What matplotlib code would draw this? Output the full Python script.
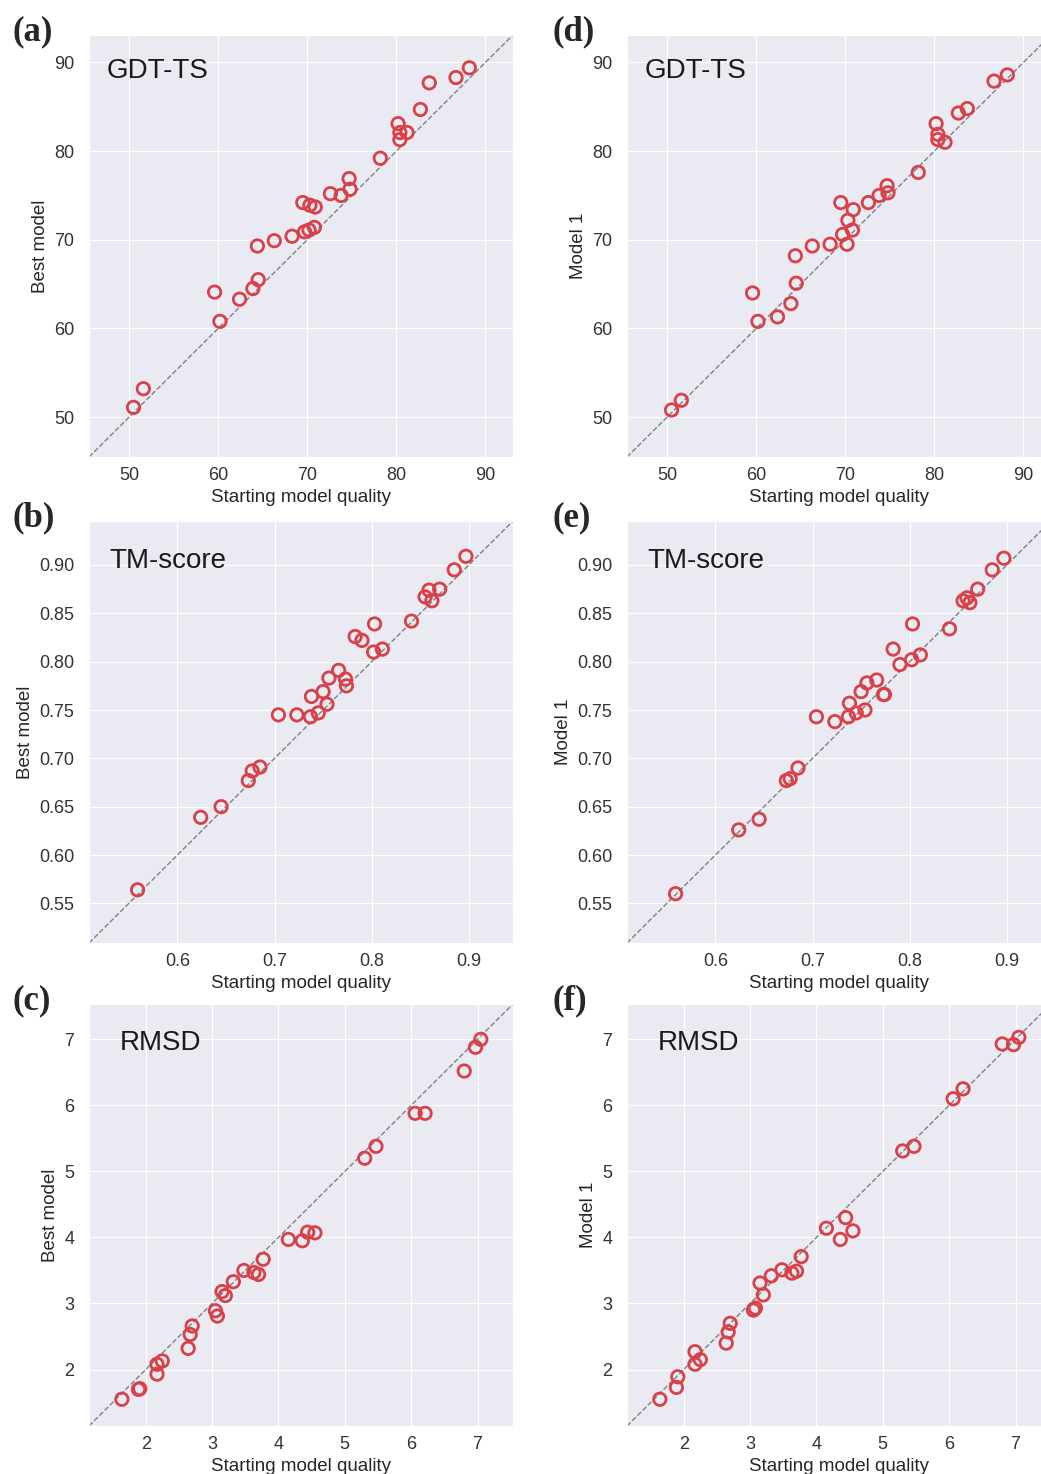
import numpy as np
import matplotlib
matplotlib.use("Agg")
import matplotlib.pyplot as plt
import seaborn as sns

# starting model quality (shared by left/right panels of each row)
gdt_start = [50.5, 51.6, 59.6, 60.2, 62.4, 63.9, 64.5, 64.4, 66.3, 68.3, 69.7, 70.2, 70.8,
             69.5, 70.3, 70.9, 72.6, 73.8, 74.7, 74.8, 78.2, 80.2, 80.4, 81.2, 80.4, 82.7,
             83.7, 86.7, 88.2]
gdt_best = [51.1, 53.2, 64.1, 60.8, 63.3, 64.5, 65.5, 69.3, 69.9, 70.4, 70.9, 71.1, 71.4,
            74.2, 73.9, 73.7, 75.2, 75.0, 76.9, 75.7, 79.2, 83.1, 82.1, 82.1, 81.3, 84.7,
            87.7, 88.3, 89.4]
gdt_model1 = [50.8, 51.9, 64.0, 60.8, 61.3, 62.8, 65.1, 68.2, 69.3, 69.5, 70.6, 69.5, 71.1,
              74.2, 72.2, 73.4, 74.2, 75.0, 76.1, 75.3, 77.6, 83.1, 81.9, 81.0, 81.3, 84.3,
              84.8, 87.9, 88.6]

tm_start = [0.559, 0.624, 0.645, 0.673, 0.677, 0.685, 0.704, 0.723, 0.737, 0.745, 0.754,
            0.738, 0.750, 0.756, 0.766, 0.773, 0.774, 0.783, 0.790, 0.802, 0.811, 0.803,
            0.841, 0.855, 0.859, 0.862, 0.870, 0.885, 0.897]
tm_best = [0.564, 0.639, 0.650, 0.677, 0.687, 0.691, 0.745, 0.745, 0.743, 0.747, 0.756,
           0.764, 0.769, 0.783, 0.791, 0.782, 0.775, 0.826, 0.822, 0.810, 0.813, 0.839,
           0.842, 0.867, 0.874, 0.863, 0.875, 0.895, 0.909]
tm_model1 = [0.560, 0.626, 0.637, 0.677, 0.679, 0.690, 0.743, 0.738, 0.743, 0.747, 0.750,
             0.757, 0.769, 0.778, 0.781, 0.766, 0.766, 0.813, 0.797, 0.802, 0.807, 0.839,
             0.834, 0.863, 0.866, 0.861, 0.875, 0.895, 0.907]

rmsd_start = [1.64, 1.89, 1.91, 2.17, 2.17, 2.25, 2.64, 2.67, 2.70, 3.05, 3.08, 3.15, 3.20,
              3.32, 3.48, 3.63, 3.70, 3.77, 4.15, 4.36, 4.44, 4.55, 5.30, 5.47, 6.06, 6.21,
              6.80, 6.97, 7.05]
rmsd_best = [1.55, 1.70, 1.71, 1.93, 2.08, 2.13, 2.32, 2.53, 2.66, 2.89, 2.81, 3.18, 3.12,
             3.33, 3.50, 3.47, 3.44, 3.67, 3.97, 3.95, 4.08, 4.07, 5.20, 5.38, 5.88, 5.88,
             6.52, 6.88, 7.00]
rmsd_model1 = [1.55, 1.73, 1.89, 2.08, 2.27, 2.15, 2.40, 2.57, 2.70, 2.90, 2.93, 3.31, 3.13,
               3.42, 3.51, 3.46, 3.49, 3.71, 4.14, 3.97, 4.30, 4.10, 5.31, 5.38, 6.10, 6.25,
               6.93, 6.92, 7.03]

gdt_lim = (45.5, 93.1)
tm_lim = (0.509, 0.9455)
rmsd_lim = (1.145, 7.535)

sns.set_style("darkgrid")
plt.rcParams["font.family"] = ["Liberation Sans", "DejaVu Sans"]

fig = plt.figure(figsize=(10.41, 14.74), dpi=100)

W, H = 1041, 1474
col_left = [89, 627]
row_top = [35, 521, 1004]
aw, ah = 424, 422

panels = [
    # (row, col, letter, title, x, y, ylabel, lim, xticks, yticks, yfmt, title pos)
    (0, 0, "(a)", "GDT-TS", gdt_start, gdt_best, "Best model", gdt_lim,
     [50, 60, 70, 80, 90], [50, 60, 70, 80, 90], "{:.0f}", (0.042, 0.915)),
    (0, 1, "(d)", "GDT-TS", gdt_start, gdt_model1, "Model 1", gdt_lim,
     [50, 60, 70, 80, 90], [50, 60, 70, 80, 90], "{:.0f}", (0.042, 0.915)),
    (1, 0, "(b)", "TM-score", tm_start, tm_best, "Best model", tm_lim,
     [0.6, 0.7, 0.8, 0.9], np.arange(0.55, 0.901, 0.05), "{:.2f}", (0.048, 0.905)),
    (1, 1, "(e)", "TM-score", tm_start, tm_model1, "Model 1", tm_lim,
     [0.6, 0.7, 0.8, 0.9], np.arange(0.55, 0.901, 0.05), "{:.2f}", (0.048, 0.905)),
    (2, 0, "(c)", "RMSD", rmsd_start, rmsd_best, "Best model", rmsd_lim,
     [2, 3, 4, 5, 6, 7], [2, 3, 4, 5, 6, 7], "{:.0f}", (0.072, 0.908)),
    (2, 1, "(f)", "RMSD", rmsd_start, rmsd_model1, "Model 1", rmsd_lim,
     [2, 3, 4, 5, 6, 7], [2, 3, 4, 5, 6, 7], "{:.0f}", (0.072, 0.908)),
]

for row, col, letter, title, x, y, ylab, lim, xt, yt, yfmt, tpos in panels:
    left = col_left[col] / W
    bottom = (H - row_top[row] - ah) / H
    ax = fig.add_axes([left, bottom, aw / W, ah / H])
    ax.set_facecolor("#EAEAF2")
    ax.plot(lim, lim, ls="--", color="gray", lw=1.0, zorder=1)
    ax.scatter(x, y, s=80, facecolors="none", edgecolors="#d8404a",
               linewidths=2.0, zorder=3)
    ax.set_xlim(lim)
    ax.set_ylim(lim)
    ax.set_xticks(xt)
    ax.set_yticks(yt)
    ax.set_yticklabels([yfmt.format(v) for v in yt])
    ax.tick_params(axis="x", labelsize=13, pad=4, colors="#333333")
    ax.tick_params(axis="y", labelsize=13, pad=7, colors="#333333")
    ax.set_xlabel("Starting model quality", fontsize=13.5, labelpad=3, color="#262626")
    ax.set_ylabel(ylab, fontsize=13.5, labelpad=4, color="#262626")
    ax.text(tpos[0], tpos[1], title, transform=ax.transAxes, fontsize=20,
            va="center", ha="left", color="#1a1a1a")
    fig.text((13 if col == 0 else 553) / W, 1 - (row_top[row] - 3) / H, letter,
             family="Liberation Serif", fontweight="bold", fontsize=25,
             va="center", ha="left")

fig.savefig("out.png", dpi=100)
